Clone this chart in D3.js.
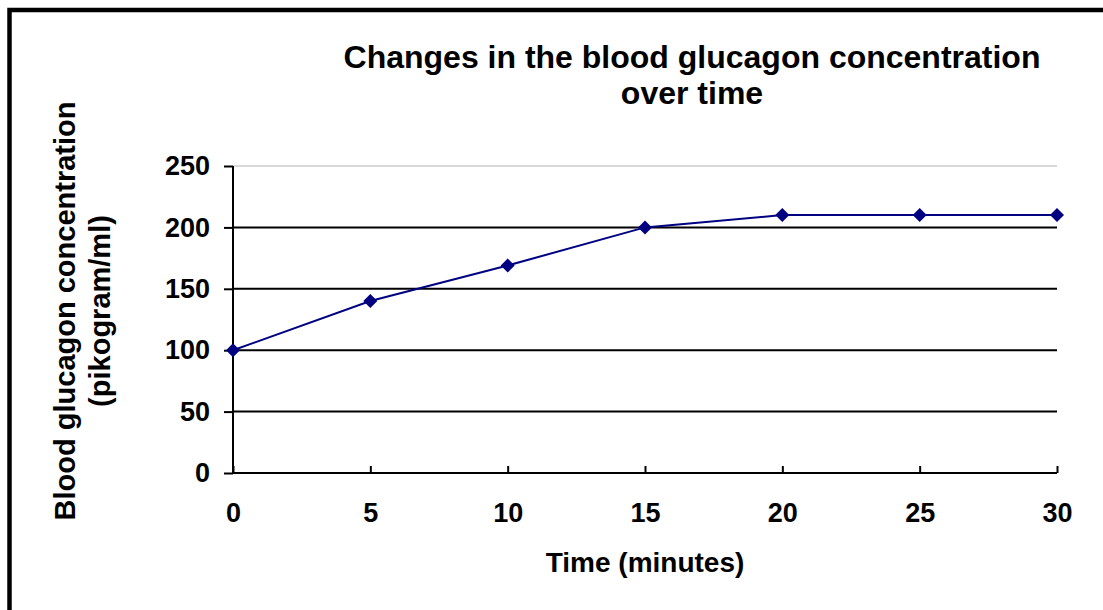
<!DOCTYPE html>
<html>
<head>
<meta charset="utf-8">
<script src="https://cdn.jsdelivr.net/npm/d3@7"></script>
<style>
  body { margin: 0; background: #fff; }
  svg { display: block; font-family: Arial, "Liberation Sans", sans-serif; font-weight: bold; }
</style>
</head>
<body>
<div id="chart"></div>
<script>
var minutes = [0, 5, 10, 15, 20, 25, 30]
var glucagon = [100, 140, 169, 200, 210, 210, 210]
var yTicks = [0, 50, 100, 150, 200, 250]
var xTicks = [0, 5, 10, 15, 20, 25, 30]
var titleLines = ["Changes in the blood glucagon concentration", "over time"]
var yLabelLines = ["Blood glucagon concentration", "(pikogram/ml)"]
var xLabel = "Time (minutes)"

var width = 1103, height = 610
var margin = { top: 166, right: 46, bottom: 137, left: 233 }

var svg = d3.select('#chart').append('svg')
    .attr('width', width)
    .attr('height', height)

// outer frame, runs off the right and bottom edges
svg.append('rect')
    .attr('x', 9.5).attr('y', 10)
    .attr('width', 1300).attr('height', 800)
    .attr('fill', 'none')
    .attr('stroke', '#000')
    .attr('stroke-width', 4.5)

var x = d3.scaleLinear()
    .domain([0, 30])
    .range([margin.left, width - margin.right])

var y = d3.scaleLinear()
    .domain([0, 250])
    .range([height - margin.bottom, margin.top])

// grid lines
svg.append('g').selectAll('line')
    .data(yTicks.filter(function(d){ return d > 0 }))
    .enter().append('line')
    .attr('x1', x(0)).attr('x2', x(30))
    .attr('y1', function(d){ return y(d) }).attr('y2', function(d){ return y(d) })
    .attr('stroke', function(d){ return d == 250 ? '#d9d9d9' : '#000' })
    .attr('stroke-width', 2)

// y axis
var yAxis = d3.axisLeft(y).tickValues(yTicks).tickSize(9).tickPadding(14)
var gy = svg.append('g')
    .attr('transform', 'translate(' + x(0) + ',0)')
    .call(yAxis)
gy.select('.domain').attr('stroke-width', 2).attr('d', 'M0,' + y(250) + 'V' + y(0))
gy.selectAll('.tick line').attr('stroke-width', 2)
gy.selectAll('.tick text').style('font-size', '27px').style('font-weight', 'bold').attr('fill', '#000')

// x axis, ticks point up into the plot
var xAxis = d3.axisBottom(x).tickValues(xTicks).tickSize(-7).tickPadding(30)
var gx = svg.append('g')
    .attr('transform', 'translate(0,' + y(0) + ')')
    .call(xAxis)
gx.select('.domain').attr('stroke-width', 2).attr('d', 'M' + x(0) + ',0H' + x(30))
gx.selectAll('.tick line').attr('stroke-width', 2)
gx.selectAll('.tick text').style('font-size', '27px').style('font-weight', 'bold').attr('fill', '#000')
gx.attr('font-family', null); gy.attr('font-family', null)

// series
var pts = minutes.map(function(m, i){ return [m, glucagon[i]] })
var line = d3.line()
    .x(function(d){ return x(d[0]) })
    .y(function(d){ return y(d[1]) })

svg.append('path')
    .datum(pts)
    .attr('d', line)
    .attr('fill', 'none')
    .attr('stroke', '#000080')
    .attr('stroke-width', 2)

var dm = 7
svg.append('g').selectAll('path')
    .data(pts)
    .enter().append('path')
    .attr('d', 'M0,' + (-dm) + 'L' + dm + ',0L0,' + dm + 'L' + (-dm) + ',0Z')
    .attr('transform', function(d){ return 'translate(' + x(d[0]) + ',' + y(d[1]) + ')' })
    .attr('fill', '#000080')

// title
svg.append('text')
    .attr('x', 692).attr('y', 68)
    .attr('text-anchor', 'middle')
    .style('font-size', '32px')
    .text(titleLines[0])
svg.append('text')
    .attr('x', 692).attr('y', 104)
    .attr('text-anchor', 'middle')
    .style('font-size', '32px')
    .text(titleLines[1])

// axis titles
var yl = svg.append('text')
    .attr('transform', 'translate(75,311) rotate(-90)')
    .attr('text-anchor', 'middle')
    .style('font-size', '29px')
yl.append('tspan').attr('x', 0).attr('dy', 0).text(yLabelLines[0])
yl.append('tspan').attr('x', 0).attr('dy', 35).text(yLabelLines[1])

svg.append('text')
    .attr('x', 645).attr('y', 572)
    .attr('text-anchor', 'middle')
    .style('font-size', '28px')
    .text(xLabel)
</script>
</body>
</html>
